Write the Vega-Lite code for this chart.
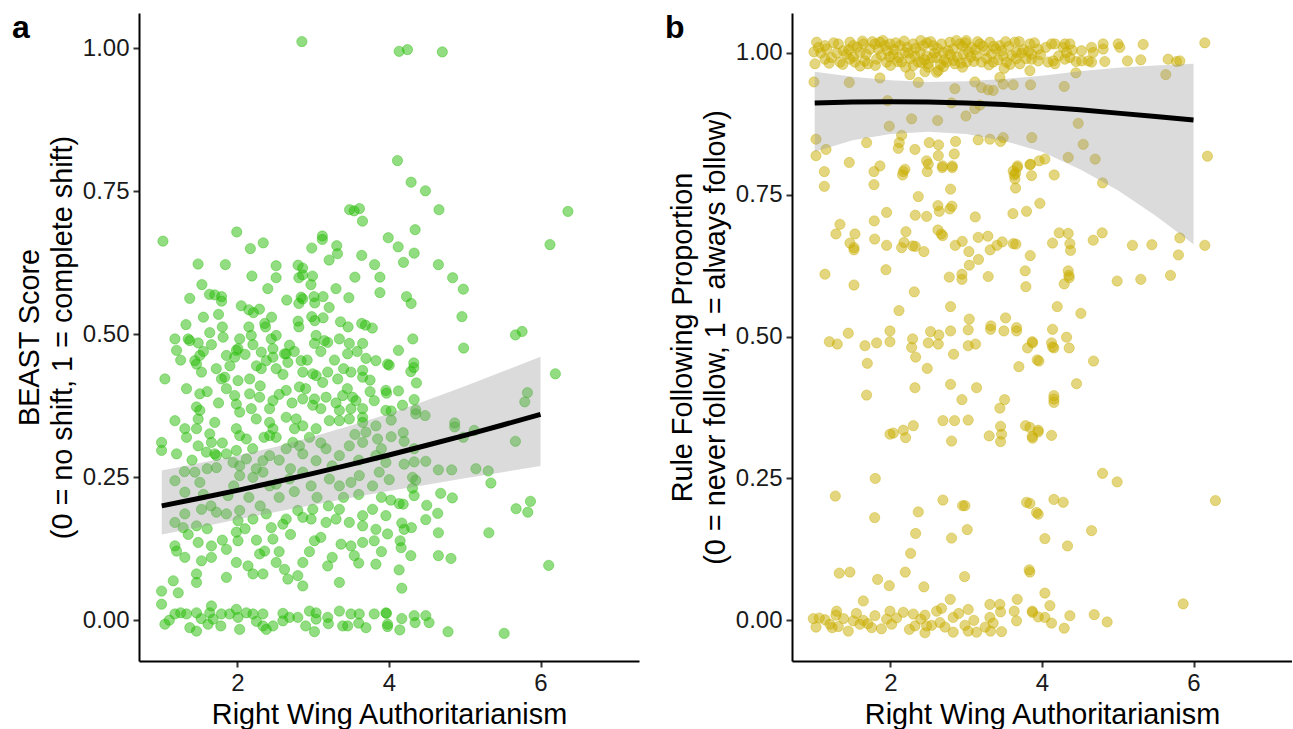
{
"$schema":"https://vega.github.io/schema/vega-lite/v6.json",
"padding":{"left":12,"top":12,"right":0,"bottom":0},
"autosize":{"type":"pad"},
"config":{"font":"Liberation Sans","view":{"stroke":null},
"axis":{"grid":false,"domainColor":"#000000","domainWidth":2,"tickColor":"#333333","tickWidth":2,"tickSize":6,"labelFontSize":24,"labelColor":"#1a1a1a","titleFontSize":28.8,"titleFontWeight":"normal","titleColor":"#000000","labelPadding":4},
"axisY":{"titlePadding":5,"titleLineHeight":33},
"axisX":{"titlePadding":5}},
"bounds":"flush",
"spacing":153,
"datasets":{
"pa":[{"x":2.85,"y":1.012},{"x":1.016,"y":0.663},{"x":1.99,"y":0.679},{"x":2.17,"y":0.65},{"x":2.34,"y":0.66},{"x":1.48,"y":0.623},{"x":1.84,"y":0.622},{"x":1.53,"y":0.587},{"x":1.37,"y":0.563},{"x":1.63,"y":0.57},{"x":1.7,"y":0.569},{"x":1.79,"y":0.566},{"x":1.79,"y":0.558},{"x":2.19,"y":0.602},{"x":2.51,"y":0.62},{"x":2.51,"y":0.599},{"x":2.15,"y":0.543},{"x":2.21,"y":0.538},{"x":2.29,"y":0.544},{"x":1.32,"y":0.517},{"x":1.8,"y":0.513},{"x":2.15,"y":0.513},{"x":2.36,"y":0.519},{"x":2.37,"y":0.513},{"x":2.8,"y":0.621},{"x":2.86,"y":0.616},{"x":2.81,"y":0.599},{"x":2.86,"y":0.604},{"x":2.99,"y":0.602},{"x":2.97,"y":0.587},{"x":2.84,"y":0.565},{"x":2.86,"y":0.562},{"x":2.81,"y":0.554},{"x":3.01,"y":0.566},{"x":3.02,"y":0.555},{"x":3.13,"y":0.566},{"x":3.21,"y":0.547},{"x":2.98,"y":0.531},{"x":3.02,"y":0.524},{"x":3.13,"y":0.529},{"x":2.8,"y":0.523},{"x":2.81,"y":0.513},{"x":3.36,"y":0.522},{"x":3.46,"y":0.513},{"x":3.12,"y":0.672},{"x":3.12,"y":0.666},{"x":2.98,"y":0.651},{"x":3.31,"y":0.655},{"x":3.32,"y":0.641},{"x":3.21,"y":0.63},{"x":3.48,"y":0.718},{"x":3.54,"y":0.716},{"x":3.61,"y":0.72},{"x":3.65,"y":0.698},{"x":3.64,"y":0.638},{"x":3.81,"y":0.622},{"x":3.88,"y":0.6},{"x":3.88,"y":0.573},{"x":3.99,"y":0.669},{"x":3.47,"y":0.564},{"x":3.64,"y":0.519},{"x":3.69,"y":0.516},{"x":3.78,"y":0.511},
{"x":1.174,"y":0.492},{"x":1.196,"y":0.472},{"x":1.349,"y":0.492},{"x":1.371,"y":0.489},{"x":1.481,"y":0.485},{"x":1.634,"y":0.503},{"x":1.656,"y":0.482},{"x":1.81,"y":0.495},{"x":2.029,"y":0.492},{"x":2.007,"y":0.475},{"x":2.182,"y":0.498},{"x":2.204,"y":0.482},{"x":2.446,"y":0.492},{"x":2.468,"y":0.475},{"x":2.511,"y":0.498},{"x":2.643,"y":0.466},{"x":2.687,"y":0.481},{"x":3.038,"y":0.498},{"x":3.016,"y":0.484},{"x":3.147,"y":0.489},{"x":3.191,"y":0.486},{"x":3.345,"y":0.492},{"x":3.476,"y":0.484},{"x":3.454,"y":0.466},{"x":3.652,"y":0.484},
{"x":1.437,"y":0.454},{"x":1.503,"y":0.463},{"x":1.459,"y":0.448},{"x":1.525,"y":0.434},{"x":1.854,"y":0.463},{"x":1.963,"y":0.46},{"x":1.985,"y":0.472},{"x":2.314,"y":0.469},{"x":2.38,"y":0.454},{"x":2.314,"y":0.44},{"x":2.468,"y":0.46},{"x":2.511,"y":0.44},{"x":2.621,"y":0.466},{"x":2.665,"y":0.451},{"x":2.84,"y":0.454},{"x":2.862,"y":0.434},{"x":2.994,"y":0.431},{"x":3.038,"y":0.428},{"x":3.125,"y":0.416},{"x":3.191,"y":0.434},{"x":3.323,"y":0.422},{"x":3.498,"y":0.434},{"x":3.652,"y":0.437},{"x":3.652,"y":0.425},{"x":3.696,"y":0.458},{"x":3.827,"y":0.454},{"x":3.981,"y":0.448},{"x":1.042,"y":0.422},
{"x":1.327,"y":0.405},{"x":1.503,"y":0.396},{"x":1.459,"y":0.373},{"x":1.503,"y":0.367},{"x":1.832,"y":0.425},{"x":1.788,"y":0.422},{"x":1.854,"y":0.405},{"x":2.007,"y":0.419},{"x":2.161,"y":0.422},{"x":2.161,"y":0.396},{"x":2.292,"y":0.39},{"x":1.963,"y":0.393},{"x":1.985,"y":0.378},{"x":2.029,"y":0.364},{"x":2.182,"y":0.37},{"x":2.468,"y":0.384},{"x":2.424,"y":0.37},{"x":2.643,"y":0.402},{"x":2.818,"y":0.408},{"x":2.862,"y":0.387},{"x":2.994,"y":0.376},{"x":3.016,"y":0.387},{"x":3.169,"y":0.39},{"x":3.389,"y":0.393},{"x":3.52,"y":0.39},{"x":3.564,"y":0.384},{"x":3.498,"y":0.37},{"x":3.652,"y":0.37},{"x":3.652,"y":0.355},{"x":3.805,"y":0.384},{"x":3.959,"y":0.402},
{"x":1.174,"y":0.349},{"x":1.305,"y":0.335},{"x":1.327,"y":0.32},{"x":1.481,"y":0.352},{"x":1.459,"y":0.335},{"x":1.634,"y":0.326},{"x":1.7,"y":0.346},{"x":1.481,"y":0.305},{"x":1.656,"y":0.311},{"x":1.7,"y":0.291},{"x":1.985,"y":0.335},{"x":2.029,"y":0.323},{"x":2.117,"y":0.317},{"x":2.248,"y":0.352},{"x":2.424,"y":0.346},{"x":2.468,"y":0.335},{"x":2.424,"y":0.323},{"x":2.511,"y":0.32},{"x":2.643,"y":0.355},{"x":2.775,"y":0.352},{"x":2.753,"y":0.335},{"x":2.862,"y":0.34},{"x":3.038,"y":0.335},{"x":3.213,"y":0.349},{"x":3.345,"y":0.367},{"x":3.345,"y":0.349},{"x":3.476,"y":0.352},{"x":3.652,"y":0.346},{"x":3.696,"y":0.329},{"x":3.827,"y":0.34},{"x":3.849,"y":0.317},{"x":3.959,"y":0.367},
{"x":0.998,"y":0.311},{"x":0.998,"y":0.297},{"x":1.196,"y":0.291},{"x":1.59,"y":0.294},{"x":1.722,"y":0.288},{"x":1.854,"y":0.291},{"x":1.985,"y":0.297},{"x":1.941,"y":0.276},{"x":2.117,"y":0.282},{"x":2.248,"y":0.265},{"x":2.336,"y":0.279},{"x":2.424,"y":0.288},{"x":2.643,"y":0.3},{"x":2.731,"y":0.311},{"x":2.818,"y":0.305},{"x":2.862,"y":0.291},{"x":3.038,"y":0.279},{"x":3.169,"y":0.3},{"x":3.345,"y":0.288},{"x":3.476,"y":0.305},{"x":3.652,"y":0.311},{"x":3.827,"y":0.288},{"x":3.959,"y":0.276},{"x":3.871,"y":0.259},
{"x":1.174,"y":0.244},{"x":1.305,"y":0.224},{"x":1.503,"y":0.241},{"x":1.437,"y":0.259},{"x":1.722,"y":0.267},{"x":1.875,"y":0.218},{"x":2.029,"y":0.27},{"x":2.029,"y":0.253},{"x":2.204,"y":0.25},{"x":2.336,"y":0.259},{"x":2.424,"y":0.235},{"x":2.511,"y":0.238},{"x":2.687,"y":0.247},{"x":2.862,"y":0.259},{"x":2.972,"y":0.235},{"x":3.213,"y":0.247},{"x":3.345,"y":0.235},{"x":3.498,"y":0.241},{"x":3.608,"y":0.253},{"x":3.783,"y":0.235},
{"x":1.174,"y":0.171},{"x":1.305,"y":0.186},{"x":1.283,"y":0.162},{"x":1.525,"y":0.194},{"x":1.459,"y":0.165},{"x":1.722,"y":0.189},{"x":1.854,"y":0.186},{"x":2.007,"y":0.174},{"x":2.029,"y":0.192},{"x":2.204,"y":0.177},{"x":2.38,"y":0.186},{"x":2.446,"y":0.162},{"x":2.643,"y":0.177},{"x":2.599,"y":0.168},{"x":2.796,"y":0.192},{"x":2.862,"y":0.18},{"x":2.994,"y":0.194},{"x":2.972,"y":0.177},{"x":3.169,"y":0.171},{"x":3.301,"y":0.177},{"x":3.345,"y":0.194},{"x":3.476,"y":0.171},{"x":3.652,"y":0.183},{"x":3.652,"y":0.165},{"x":3.783,"y":0.194},{"x":3.827,"y":0.159},{"x":3.959,"y":0.183},
{"x":1.174,"y":0.13},{"x":1.196,"y":0.121},{"x":1.305,"y":0.11},{"x":1.481,"y":0.136},{"x":1.656,"y":0.13},{"x":1.525,"y":0.104},{"x":1.656,"y":0.11},{"x":1.459,"y":0.081},{"x":1.459,"y":0.066},{"x":1.854,"y":0.124},{"x":1.985,"y":0.154},{"x":2.007,"y":0.139},{"x":1.985,"y":0.101},{"x":2.139,"y":0.095},{"x":2.204,"y":0.081},{"x":2.336,"y":0.081},{"x":2.292,"y":0.116},{"x":2.358,"y":0.121},{"x":2.468,"y":0.142},{"x":2.511,"y":0.101},{"x":2.621,"y":0.089},{"x":2.665,"y":0.072},{"x":2.796,"y":0.078},{"x":2.862,"y":0.101},{"x":2.862,"y":0.06},{"x":3.016,"y":0.139},{"x":3.191,"y":0.095},{"x":3.345,"y":0.066},{"x":3.367,"y":0.133},{"x":3.498,"y":0.13},{"x":3.542,"y":0.113},{"x":3.652,"y":0.136},{"x":3.805,"y":0.139},{"x":3.827,"y":0.098},{"x":3.981,"y":0.151},
{"x":0.998,"y":0.051},{"x":1.152,"y":0.069},{"x":1.218,"y":0.048},{"x":1.854,"y":0.075},
{"x":0.998,"y":0.028},{"x":1.042,"y":-0.007},{"x":1.174,"y":0.011},{"x":1.327,"y":0.011},{"x":1.459,"y":0.013},{"x":1.371,"y":-0.013},{"x":1.459,"y":-0.019},{"x":1.634,"y":0.013},{"x":1.656,"y":0.025},{"x":1.612,"y":-0.007},{"x":1.678,"y":0.002},{"x":1.788,"y":0.011},{"x":1.897,"y":0.011},{"x":1.985,"y":0.019},{"x":2.007,"y":0.005},{"x":2.029,"y":-0.016},{"x":2.117,"y":0.013},{"x":2.204,"y":0.011},{"x":2.336,"y":0.011},{"x":2.336,"y":-0.01},{"x":2.38,"y":-0.016},{"x":2.468,"y":-0.01},{"x":2.599,"y":-0.001},{"x":2.687,"y":0.005},{"x":2.796,"y":0.005},{"x":2.95,"y":0.016},{"x":3.038,"y":0.013},{"x":3.038,"y":0.002},{"x":3.016,"y":-0.02},{"x":3.191,"y":0.005},{"x":3.345,"y":0.016},{"x":3.389,"y":-0.01},{"x":3.454,"y":-0.01},{"x":3.498,"y":0.011},{"x":3.608,"y":0.011},{"x":3.696,"y":-0.013},{"x":3.805,"y":0.011},{"x":3.959,"y":0.013},{"x":3.981,"y":-0.007},
{"x":1.25,"y":0.455},{"x":1.55,"y":0.47},{"x":1.72,"y":0.44},{"x":1.9,"y":0.445},{"x":2.1,"y":0.465},{"x":2.25,"y":0.445},{"x":2.6,"y":0.43},{"x":2.75,"y":0.47},{"x":2.92,"y":0.455},{"x":3.1,"y":0.47},{"x":3.28,"y":0.455},{"x":3.4,"y":0.44},{"x":3.58,"y":0.47},{"x":3.75,"y":0.42},{"x":1.6,"y":0.4},{"x":1.75,"y":0.38},{"x":2.3,"y":0.41},{"x":2.55,"y":0.395},{"x":2.72,"y":0.38},{"x":2.9,"y":0.405},{"x":3.1,"y":0.37},{"x":3.3,"y":0.38},{"x":3.45,"y":0.405},{"x":3.75,"y":0.4},{"x":1.4,"y":0.28},{"x":1.6,"y":0.265},{"x":1.8,"y":0.31},{"x":2.2,"y":0.3},{"x":2.35,"y":0.32},{"x":2.55,"y":0.28},{"x":2.7,"y":0.265},{"x":2.95,"y":0.32},{"x":3.1,"y":0.31},{"x":3.25,"y":0.27},{"x":3.55,"y":0.325},{"x":3.6,"y":0.28},{"x":3.9,"y":0.3},{"x":1.3,"y":0.26},{"x":1.55,"y":0.22},{"x":1.65,"y":0.2},{"x":1.95,"y":0.235},{"x":2.15,"y":0.215},{"x":2.3,"y":0.2},{"x":2.55,"y":0.215},{"x":2.75,"y":0.225},{"x":3.05,"y":0.215},{"x":3.2,"y":0.2},{"x":3.4,"y":0.215},{"x":3.6,"y":0.22},{"x":3.9,"y":0.215},{"x":1.35,"y":0.15},{"x":1.6,"y":0.16},{"x":1.8,"y":0.14},{"x":2.1,"y":0.16},{"x":2.25,"y":0.14},{"x":2.55,"y":0.12},{"x":2.7,"y":0.15},{"x":2.95,"y":0.12},{"x":3.1,"y":0.145},{"x":3.25,"y":0.11},{"x":3.6,"y":0.1},{"x":3.9,"y":0.12},{"x":1.75,"y":0.535},{"x":2.05,"y":0.55},{"x":2.45,"y":0.53},{"x":2.65,"y":0.56},{"x":3.3,"y":0.58},{"x":3.55,"y":0.6},{"x":1.55,"y":0.53},{"x":2.4,"y":0.58},{"x":1.1,"y":0.0},{"x":1.25,"y":0.013},{"x":1.52,"y":0.003},{"x":1.78,"y":-0.01},{"x":2.25,"y":-0.002},{"x":2.6,"y":0.012},{"x":2.9,"y":-0.01},{"x":3.2,"y":-0.006},{"x":3.6,"y":-0.005},
{"x":4.134,"y":0.995},{"x":4.244,"y":0.998},{"x":4.704,"y":0.994},{"x":4.112,"y":0.804},{"x":4.292,"y":0.766},{"x":4.481,"y":0.751},{"x":4.66,"y":0.718},{"x":6.362,"y":0.715},{"x":4.345,"y":0.683},{"x":4.121,"y":0.653},{"x":4.332,"y":0.642},{"x":4.191,"y":0.626},{"x":4.652,"y":0.622},{"x":4.84,"y":0.599},{"x":4.981,"y":0.579},{"x":6.125,"y":0.657},{"x":4.231,"y":0.566},{"x":4.292,"y":0.554},{"x":4.963,"y":0.531},{"x":4.985,"y":0.476},{"x":5.669,"y":0.499},{"x":5.757,"y":0.505},{"x":4.314,"y":0.492},{"x":4.125,"y":0.472},{"x":4.003,"y":0.446},{"x":4.327,"y":0.45},{"x":4.327,"y":0.442},{"x":4.288,"y":0.435},{"x":4.362,"y":0.415},{"x":3.967,"y":0.397},{"x":4.125,"y":0.401},{"x":4.178,"y":0.376},{"x":4.029,"y":0.366},{"x":4.029,"y":0.35},{"x":4.332,"y":0.386},{"x":4.353,"y":0.368},{"x":4.353,"y":0.361},{"x":4.476,"y":0.358},{"x":5.827,"y":0.398},{"x":5.792,"y":0.382},{"x":6.196,"y":0.431},{"x":4.867,"y":0.345},{"x":4.867,"y":0.338},{"x":5.125,"y":0.332},{"x":4.981,"y":0.32},{"x":5.669,"y":0.313},{"x":4.029,"y":0.321},{"x":4.187,"y":0.328},{"x":4.2,"y":0.313},{"x":4.332,"y":0.3},{"x":4.485,"y":0.278},{"x":4.332,"y":0.277},{"x":4.2,"y":0.273},{"x":4.652,"y":0.263},{"x":4.827,"y":0.263},{"x":5.147,"y":0.265},{"x":5.31,"y":0.261},{"x":4.003,"y":0.246},{"x":4.31,"y":0.25},{"x":4.353,"y":0.245},{"x":4.31,"y":0.231},{"x":5.345,"y":0.24},{"x":4.682,"y":0.222},{"x":4.836,"y":0.214},{"x":4.332,"y":0.218},{"x":4.024,"y":0.21},{"x":4.134,"y":0.204},{"x":4.187,"y":0.203},{"x":4.498,"y":0.201},{"x":4.643,"y":0.187},{"x":4.485,"y":0.176},{"x":5.678,"y":0.195},{"x":5.867,"y":0.208},{"x":5.832,"y":0.189},{"x":4.169,"y":0.17},{"x":4.296,"y":0.162},{"x":4.2,"y":0.159},{"x":4.652,"y":0.153},{"x":5.318,"y":0.153},{"x":4.147,"y":0.139},{"x":4.16,"y":0.127},{"x":4.288,"y":0.113},{"x":4.652,"y":0.113},{"x":4.818,"y":0.108},{"x":6.108,"y":0.096},{"x":4.134,"y":0.088},{"x":4.169,"y":0.056},
{"x":3.967,"y":0.012},{"x":4.169,"y":0.003},{"x":4.332,"y":0.008},{"x":4.485,"y":0.008},{"x":3.981,"y":-0.011},{"x":4.143,"y":-0.017},{"x":4.345,"y":-0.004},{"x":4.529,"y":-0.004},{"x":4.779,"y":-0.02},{"x":5.52,"y":-0.023}],
"pb":[{"x":1.025,"y":1.019},{"x":0.99,"y":1.002},{"x":1.003,"y":0.981},{"x":1.135,"y":1.013},{"x":1.135,"y":0.989},{"x":1.157,"y":1.007},{"x":1.311,"y":1.016},{"x":1.333,"y":0.984},{"x":1.377,"y":1.004},{"x":1.465,"y":1.019},{"x":1.465,"y":0.989},{"x":1.509,"y":1.013},{"x":1.531,"y":0.984},{"x":1.597,"y":1.001},{"x":1.641,"y":1.016},{"x":1.663,"y":0.986},{"x":1.729,"y":1.007},{"x":1.795,"y":1.016},{"x":1.817,"y":0.989},{"x":1.839,"y":1.007},{"x":1.927,"y":1.013},{"x":1.949,"y":0.984},{"x":1.993,"y":1.016},{"x":2.037,"y":0.998},{"x":2.125,"y":1.013},{"x":2.147,"y":0.984},{"x":2.191,"y":1.001},{"x":2.301,"y":1.016},{"x":2.323,"y":0.995},{"x":2.367,"y":0.984},{"x":2.433,"y":1.013},{"x":2.477,"y":0.995},{"x":2.499,"y":0.981},{"x":2.565,"y":1.013},{"x":2.609,"y":0.992},{"x":2.631,"y":0.969},{"x":2.674,"y":1.016},{"x":2.696,"y":1.001},{"x":2.74,"y":0.984},{"x":2.784,"y":1.019},{"x":2.828,"y":1.007},{"x":2.85,"y":0.981},{"x":2.916,"y":1.016},{"x":2.96,"y":0.998},{"x":3.004,"y":0.984},{"x":3.07,"y":1.01},{"x":3.136,"y":0.995},{"x":3.18,"y":1.016},{"x":3.202,"y":0.984},{"x":3.312,"y":1.019},{"x":3.334,"y":0.998},{"x":3.356,"y":0.984},{"x":3.444,"y":1.013},{"x":3.488,"y":0.995},{"x":3.532,"y":0.984},{"x":3.642,"y":1.019},{"x":3.664,"y":1.001},{"x":3.708,"y":0.981},{"x":3.84,"y":1.016},{"x":3.862,"y":0.989},{"x":3.84,"y":0.969},{"x":3.95,"y":1.007},{"x":3.95,"y":0.986},
{"x":1.08,"y":1.0},{"x":1.22,"y":0.992},{"x":1.25,"y":1.018},{"x":1.42,"y":0.998},{"x":1.56,"y":1.01},{"x":1.7,"y":0.981},{"x":1.76,"y":1.02},{"x":1.88,"y":0.996},{"x":1.96,"y":1.004},{"x":2.07,"y":1.018},{"x":2.09,"y":0.985},{"x":2.22,"y":1.01},{"x":2.26,"y":0.99},{"x":2.39,"y":1.002},{"x":2.45,"y":0.988},{"x":2.53,"y":1.02},{"x":2.58,"y":1.0},{"x":2.71,"y":0.988},{"x":2.76,"y":1.004},{"x":2.88,"y":0.993},{"x":2.95,"y":1.012},{"x":3.03,"y":1.002},{"x":3.1,"y":0.985},{"x":3.25,"y":1.004},{"x":3.27,"y":0.99},{"x":3.39,"y":1.007},{"x":3.42,"y":0.988},{"x":3.56,"y":1.012},{"x":3.6,"y":0.996},{"x":3.75,"y":1.006},{"x":3.79,"y":0.99},{"x":2.3,"y":0.978},{"x":1.6,"y":0.977},{"x":2.0,"y":0.978},{"x":2.7,"y":0.976},{"x":3.15,"y":1.02},{"x":2.18,"y":1.021},{"x":1.37,"y":0.98},{"x":2.87,"y":1.022},{"x":3.7,"y":1.02},
{"x":1.05,"y":1.01},{"x":1.19,"y":0.982},{"x":1.29,"y":1.0},{"x":1.45,"y":1.006},{"x":1.51,"y":0.993},{"x":1.63,"y":1.021},{"x":1.68,"y":0.998},{"x":1.8,"y":0.978},{"x":1.86,"y":1.019},{"x":1.99,"y":0.993},{"x":2.05,"y":1.006},{"x":2.11,"y":0.992},{"x":2.24,"y":1.0},{"x":2.33,"y":1.008},{"x":2.41,"y":0.983},{"x":2.48,"y":1.018},{"x":2.55,"y":0.992},{"x":2.62,"y":1.008},{"x":2.66,"y":0.98},{"x":2.79,"y":0.997},{"x":2.83,"y":0.987},{"x":2.93,"y":0.982},{"x":2.99,"y":1.018},{"x":3.06,"y":0.993},{"x":3.12,"y":1.006},{"x":3.22,"y":1.012},{"x":3.3,"y":0.979},{"x":3.36,"y":1.012},{"x":3.47,"y":1.004},{"x":3.52,"y":1.02},{"x":3.58,"y":0.98},{"x":3.66,"y":0.99},{"x":3.73,"y":1.0},{"x":3.82,"y":1.003},{"x":3.9,"y":1.018},{"x":3.98,"y":0.997},{"x":4.05,"y":1.01},{"x":4.08,"y":0.984},{"x":4.22,"y":0.995},{"x":4.4,"y":1.005},{"x":4.45,"y":0.985},{"x":2.2,"y":0.975},{"x":2.5,"y":0.975},{"x":2.95,"y":0.975},{"x":1.9,"y":1.022},{"x":2.4,"y":1.022},{"x":3.0,"y":1.022},{"x":3.5,"y":0.973},
{"x":0.99,"y":0.949},{"x":1.456,"y":0.948},{"x":1.861,"y":0.956},{"x":2.257,"y":0.962},{"x":2.367,"y":0.948},{"x":2.455,"y":0.967},{"x":2.609,"y":0.966},{"x":2.85,"y":0.937},{"x":3.114,"y":0.949},{"x":3.202,"y":0.939},{"x":3.29,"y":0.935},{"x":3.356,"y":0.934},{"x":3.444,"y":0.957},{"x":3.488,"y":0.945},{"x":3.62,"y":0.944},{"x":3.849,"y":0.944},{"x":1.962,"y":0.916},{"x":2.806,"y":0.912},{"x":2.279,"y":0.884},{"x":2.622,"y":0.881},{"x":2.996,"y":0.889},{"x":1.984,"y":0.871},{"x":3.18,"y":0.908},{"x":3.114,"y":0.902},{"x":2.147,"y":0.855},{"x":2.116,"y":0.842},{"x":2.103,"y":0.832},{"x":1.017,"y":0.848},{"x":1.685,"y":0.842},{"x":1.149,"y":0.83},{"x":1.017,"y":0.819},{"x":2.323,"y":0.83},{"x":2.512,"y":0.842},{"x":2.635,"y":0.838},{"x":2.859,"y":0.844},{"x":2.842,"y":0.822},{"x":3.158,"y":0.847},{"x":3.312,"y":0.848},{"x":3.453,"y":0.844},{"x":3.488,"y":0.851},{"x":3.866,"y":0.851},{"x":1.456,"y":0.807},{"x":1.861,"y":0.801},{"x":2.191,"y":0.795},{"x":2.477,"y":0.81},{"x":2.499,"y":0.804},{"x":2.631,"y":0.819},{"x":2.688,"y":0.801},{"x":2.815,"y":0.801},{"x":3.677,"y":0.801},{"x":3.849,"y":0.804},{"x":3.963,"y":0.81},
{"x":1.127,"y":0.791},{"x":1.127,"y":0.765},{"x":1.782,"y":0.791},{"x":1.782,"y":0.768},{"x":2.169,"y":0.791},{"x":2.16,"y":0.785},{"x":2.485,"y":0.791},{"x":2.683,"y":0.798},{"x":2.815,"y":0.798},{"x":2.793,"y":0.76},{"x":2.367,"y":0.747},{"x":2.626,"y":0.731},{"x":2.644,"y":0.721},{"x":2.784,"y":0.725},{"x":2.811,"y":0.73},{"x":3.119,"y":0.711},{"x":3.62,"y":0.792},{"x":3.673,"y":0.798},{"x":3.651,"y":0.788},{"x":3.633,"y":0.785},{"x":3.642,"y":0.778},{"x":3.651,"y":0.762},{"x":3.84,"y":0.803},{"x":3.616,"y":0.717},{"x":3.796,"y":0.721},{"x":1.333,"y":0.698},{"x":1.28,"y":0.681},{"x":1.531,"y":0.681},{"x":1.465,"y":0.665},{"x":1.518,"y":0.657},{"x":1.518,"y":0.653},{"x":1.786,"y":0.704},{"x":1.949,"y":0.719},{"x":1.791,"y":0.672},{"x":1.949,"y":0.661},{"x":2.204,"y":0.685},{"x":2.178,"y":0.666},{"x":2.147,"y":0.657},{"x":2.292,"y":0.66},{"x":2.327,"y":0.659},{"x":2.441,"y":0.65},{"x":2.327,"y":0.714},{"x":2.477,"y":0.712},{"x":2.626,"y":0.688},{"x":2.67,"y":0.681},{"x":2.688,"y":0.678},{"x":2.855,"y":0.661},{"x":2.947,"y":0.668},{"x":3.035,"y":0.65},{"x":3.158,"y":0.675},{"x":3.162,"y":0.636},{"x":3.04,"y":0.626},{"x":3.285,"y":0.677},{"x":3.316,"y":0.653},{"x":3.404,"y":0.661},{"x":3.475,"y":0.667},{"x":3.62,"y":0.664},{"x":3.655,"y":0.663},{"x":3.845,"y":0.643},{"x":3.778,"y":0.616},{"x":3.787,"y":0.588},{"x":1.135,"y":0.61},{"x":1.94,"y":0.618},{"x":1.518,"y":0.591},{"x":2.776,"y":0.605},{"x":2.943,"y":0.61},{"x":2.943,"y":0.601},{"x":3.29,"y":0.606},{"x":2.314,"y":0.579},{"x":2.793,"y":0.553},{"x":2.112,"y":0.546},{"x":3.04,"y":0.531},{"x":3.325,"y":0.519},{"x":3.519,"y":0.533},{"x":3.664,"y":0.516},
{"x":3.862,"y":0.998},{"x":4.126,"y":1.016},{"x":4.148,"y":0.986},{"x":4.17,"y":1.016},{"x":4.17,"y":0.981},{"x":4.28,"y":1.01},{"x":4.302,"y":1.016},{"x":4.302,"y":0.989},{"x":4.324,"y":1.001},{"x":4.368,"y":1.016},{"x":4.368,"y":0.992},{"x":4.522,"y":1.004},{"x":4.522,"y":0.986},{"x":4.61,"y":0.986},{"x":4.654,"y":1.01},{"x":4.676,"y":1.001},{"x":4.654,"y":0.984},{"x":4.807,"y":1.016},{"x":4.807,"y":1.007},{"x":4.829,"y":0.985},{"x":5.005,"y":1.016},{"x":5.027,"y":1.01},{"x":5.128,"y":0.986},{"x":5.304,"y":0.988},{"x":5.335,"y":1.015},{"x":5.665,"y":0.989},{"x":5.775,"y":0.985},{"x":5.819,"y":0.986},{"x":6.149,"y":1.018},
{"x":4.293,"y":0.941},{"x":4.447,"y":0.965},{"x":5.634,"y":0.962},{"x":4.478,"y":0.876},{"x":4.544,"y":0.839},{"x":4.346,"y":0.816},{"x":4.702,"y":0.813},{"x":4.799,"y":0.771},{"x":6.184,"y":0.818},{"x":4.038,"y":0.813},{"x":3.862,"y":0.784},{"x":4.161,"y":0.785},{"x":3.972,"y":0.735},{"x":4.227,"y":0.683},{"x":4.346,"y":0.682},{"x":4.368,"y":0.664},{"x":4.377,"y":0.652},{"x":4.139,"y":0.665},{"x":4.676,"y":0.67},{"x":4.794,"y":0.683},{"x":5.194,"y":0.661},{"x":5.45,"y":0.662},{"x":5.819,"y":0.674},{"x":5.801,"y":0.644},{"x":6.149,"y":0.661},{"x":4.346,"y":0.616},{"x":4.355,"y":0.608},{"x":4.359,"y":0.604},{"x":4.293,"y":0.593},{"x":4.992,"y":0.598},{"x":5.304,"y":0.601},{"x":5.696,"y":0.608},{"x":4.201,"y":0.553},{"x":4.513,"y":0.541},{"x":4.139,"y":0.513},
{"x":4.126,"y":0.489},{"x":4.139,"y":0.482},{"x":4.157,"y":0.48},{"x":3.875,"y":0.489},{"x":4.324,"y":0.499},{"x":4.359,"y":0.48},{"x":3.959,"y":0.457},{"x":4.68,"y":0.457},{"x":4.456,"y":0.417},{"x":4.157,"y":0.396},{"x":4.157,"y":0.39},{"x":4.157,"y":0.384},{"x":3.84,"y":0.34},{"x":3.95,"y":0.332},{"x":3.875,"y":0.321},{"x":4.126,"y":0.326},{"x":4.799,"y":0.259},{"x":4.992,"y":0.244},{"x":6.289,"y":0.211},{"x":3.84,"y":0.206},{"x":4.157,"y":0.213},{"x":4.28,"y":0.208},{"x":3.95,"y":0.187},{"x":4.654,"y":0.158},{"x":4.038,"y":0.144},{"x":4.337,"y":0.131},{"x":3.84,"y":0.085},{"x":4.038,"y":0.048},{"x":4.104,"y":0.026},{"x":5.863,"y":0.029},{"x":3.875,"y":0.014},{"x":4.038,"y":0.005},{"x":4.126,"y":-0.005},{"x":4.368,"y":0.008},{"x":4.293,"y":-0.014},{"x":4.689,"y":0.01},{"x":4.86,"y":-0.003},
{"x":1.193,"y":0.491},{"x":1.298,"y":0.487},{"x":1.443,"y":0.506},{"x":1.663,"y":0.484},{"x":1.694,"y":0.453},{"x":1.817,"y":0.489},{"x":1.993,"y":0.491},{"x":1.993,"y":0.51},{"x":2.292,"y":0.496},{"x":2.279,"y":0.481},{"x":2.332,"y":0.464},{"x":2.485,"y":0.444},{"x":2.499,"y":0.489},{"x":2.631,"y":0.487},{"x":2.639,"y":0.503},{"x":2.529,"y":0.509},{"x":2.793,"y":0.51},{"x":2.833,"y":0.469},{"x":3.026,"y":0.512},{"x":3.026,"y":0.484},{"x":3.123,"y":0.487},{"x":3.321,"y":0.513},{"x":3.497,"y":0.51},{"x":3.664,"y":0.51},{"x":3.695,"y":0.447},{"x":3.809,"y":0.48},{"x":3.871,"y":0.491},{"x":3.937,"y":0.459},{"x":2.793,"y":0.416},{"x":3.136,"y":0.41},{"x":2.943,"y":0.389},{"x":3.506,"y":0.389},{"x":3.444,"y":0.374},{"x":2.323,"y":0.41},{"x":1.685,"y":0.397},{"x":2.692,"y":0.352},{"x":2.846,"y":0.352},{"x":3.026,"y":0.353},{"x":3.453,"y":0.342},{"x":3.466,"y":0.328},{"x":3.453,"y":0.315},{"x":3.303,"y":0.325},{"x":3.783,"y":0.343},{"x":3.871,"y":0.324},{"x":3.95,"y":0.335},{"x":2.301,"y":0.343},{"x":2.169,"y":0.335},{"x":2.2,"y":0.322},{"x":2.037,"y":0.33},{"x":1.993,"y":0.328},{"x":2.806,"y":0.316},{"x":1.799,"y":0.25},{"x":1.272,"y":0.219},{"x":1.791,"y":0.181},{"x":2.367,"y":0.191},{"x":2.692,"y":0.212},{"x":2.952,"y":0.202},{"x":2.982,"y":0.202},{"x":3.796,"y":0.208},{"x":3.928,"y":0.19},{"x":2.332,"y":0.153},{"x":3.013,"y":0.16},{"x":2.806,"y":0.145},{"x":2.266,"y":0.118},{"x":1.324,"y":0.083},{"x":1.465,"y":0.085},{"x":1.83,"y":0.072},{"x":1.984,"y":0.061},{"x":2.195,"y":0.085},{"x":2.441,"y":0.059},{"x":2.978,"y":0.077},{"x":3.831,"y":0.089},{"x":1.641,"y":0.034},{"x":2.789,"y":0.037},{"x":3.673,"y":0.037},
{"x":0.981,"y":0.003},{"x":1.135,"y":0.001},{"x":1.201,"y":-0.007},{"x":1.017,"y":-0.012},{"x":1.289,"y":0.016},{"x":1.28,"y":0.009},{"x":1.311,"y":-0.011},{"x":1.443,"y":-0.019},{"x":1.509,"y":-0.001},{"x":1.597,"y":-0.007},{"x":1.641,"y":0.0},{"x":1.751,"y":-0.013},{"x":1.795,"y":0.008},{"x":1.949,"y":0.002},{"x":1.993,"y":0.016},{"x":2.015,"y":-0.007},{"x":2.169,"y":0.014},{"x":2.301,"y":0.011},{"x":2.323,"y":-0.01},{"x":2.455,"y":0.009},{"x":2.477,"y":-0.01},{"x":2.455,"y":-0.022},{"x":2.543,"y":-0.009},{"x":2.609,"y":0.016},{"x":2.674,"y":0.021},{"x":2.653,"y":-0.004},{"x":2.828,"y":0.005},{"x":2.828,"y":-0.021},{"x":2.982,"y":-0.009},{"x":3.026,"y":0.019},{"x":3.026,"y":-0.019},{"x":3.136,"y":-0.021},{"x":3.312,"y":0.028},{"x":3.312,"y":0.005},{"x":3.356,"y":-0.005},{"x":3.321,"y":-0.019},{"x":3.444,"y":0.028},{"x":3.453,"y":0.015},{"x":3.466,"y":-0.02},{"x":3.633,"y":0.016},{"x":3.664,"y":-0.001},{"x":3.871,"y":0.016},{"x":3.95,"y":0.006},
{"x":1.06,"y":0.004},{"x":1.23,"y":-0.013},{"x":1.38,"y":0.003},{"x":1.55,"y":0.012},{"x":1.7,"y":-0.006},{"x":1.88,"y":-0.015},{"x":2.08,"y":0.004},{"x":2.25,"y":-0.016},{"x":2.4,"y":0.002},{"x":2.72,"y":-0.012},{"x":2.9,"y":0.012},{"x":3.1,"y":0.0},{"x":3.25,"y":-0.012}],
"fa":[{"x":1.0,"fit":0.2,"lo":0.15,"hi":0.262},{"x":1.5,"fit":0.2133,"lo":0.1625,"hi":0.2749},{"x":2.0,"fit":0.2272,"lo":0.176,"hi":0.2882},{"x":2.5,"fit":0.2418,"lo":0.1895,"hi":0.303},{"x":3.0,"fit":0.2569,"lo":0.2015,"hi":0.3214},{"x":3.5,"fit":0.2727,"lo":0.214,"hi":0.3405},{"x":4.0,"fit":0.289,"lo":0.2262,"hi":0.3612},{"x":4.5,"fit":0.306,"lo":0.237,"hi":0.3849},{"x":5.0,"fit":0.3234,"lo":0.2482,"hi":0.409},{"x":5.5,"fit":0.3414,"lo":0.2588,"hi":0.4348},{"x":6.0,"fit":0.3599,"lo":0.2697,"hi":0.461}],
"fb":[{"x":1.0,"fit":0.912,"lo":0.826,"hi":0.967},{"x":1.5,"fit":0.9135,"lo":0.846,"hi":0.958},{"x":2.0,"fit":0.914,"lo":0.857,"hi":0.952},{"x":2.5,"fit":0.9135,"lo":0.861,"hi":0.949},{"x":3.0,"fit":0.912,"lo":0.857,"hi":0.95},{"x":3.5,"fit":0.909,"lo":0.845,"hi":0.954},{"x":4.0,"fit":0.905,"lo":0.826,"hi":0.96},{"x":4.5,"fit":0.9,"lo":0.795,"hi":0.968},{"x":5.0,"fit":0.894,"lo":0.758,"hi":0.974},{"x":5.5,"fit":0.888,"lo":0.713,"hi":0.978},{"x":6.0,"fit":0.882,"lo":0.663,"hi":0.981}]
},
"hconcat":[
{"width":500,"height":648,
"title":{"text":"a","anchor":"start","frame":"group","fontSize":32,"fontWeight":"bold","color":"#000000","dx":-127,"dy":57,"baseline":"alphabetic","offset":0},
"encoding":{"x":{"field":"x","type":"quantitative","scale":{"domain":[0.7,7.3],"nice":false,"zero":false},"axis":{"values":[2,4,6],"title":"Right Wing Authoritarianism"}}},
"layer":[
{"data":{"name":"pa"},"mark":{"type":"circle","size":105,"fill":"#25bb05","fillOpacity":0.5,"stroke":"#25bb05","strokeOpacity":0.5,"strokeWidth":0.8},
"encoding":{"y":{"field":"y","type":"quantitative","scale":{"domain":[-0.0713,1.062],"nice":false,"zero":false},"axis":{"values":[0,0.25,0.5,0.75,1],"format":".2f","title":["BEAST Score","(0 = no shift, 1 = complete shift)"]}}}},
{"data":{"name":"fa"},"mark":{"type":"area","color":"#999999","opacity":0.35},
"encoding":{"y":{"field":"lo","type":"quantitative","axis":{"values":[0,0.25,0.5,0.75,1],"format":".2f","title":["BEAST Score","(0 = no shift, 1 = complete shift)"]}},"y2":{"field":"hi"}}},
{"data":{"name":"fa"},"mark":{"type":"line","color":"#000000","strokeWidth":5},
"encoding":{"y":{"field":"fit","type":"quantitative","axis":{"values":[0,0.25,0.5,0.75,1],"format":".2f","title":["BEAST Score","(0 = no shift, 1 = complete shift)"]}}}}
]},
{"width":500,"height":648,
"title":{"text":"b","anchor":"start","frame":"group","fontSize":32,"fontWeight":"bold","color":"#000000","dx":-127,"dy":57,"baseline":"alphabetic","offset":0},
"encoding":{"x":{"field":"x","type":"quantitative","scale":{"domain":[0.7,7.3],"nice":false,"zero":false},"axis":{"values":[2,4,6],"title":"Right Wing Authoritarianism"}}},
"layer":[
{"data":{"name":"pb"},"mark":{"type":"circle","size":105,"fill":"#c9ad00","fillOpacity":0.5,"stroke":"#c9ad00","strokeOpacity":0.5,"strokeWidth":0.8},
"encoding":{"y":{"field":"y","type":"quantitative","scale":{"domain":[-0.0718,1.0705],"nice":false,"zero":false},"axis":{"values":[0,0.25,0.5,0.75,1],"format":".2f","title":["Rule Following Proportion","(0 = never follow, 1 = always follow)"]}}}},
{"data":{"name":"fb"},"mark":{"type":"area","color":"#999999","opacity":0.35},
"encoding":{"y":{"field":"lo","type":"quantitative","axis":{"values":[0,0.25,0.5,0.75,1],"format":".2f","title":["Rule Following Proportion","(0 = never follow, 1 = always follow)"]}},"y2":{"field":"hi"}}},
{"data":{"name":"fb"},"mark":{"type":"line","color":"#000000","strokeWidth":5},
"encoding":{"y":{"field":"fit","type":"quantitative","axis":{"values":[0,0.25,0.5,0.75,1],"format":".2f","title":["Rule Following Proportion","(0 = never follow, 1 = always follow)"]}}}}
]}
]
}
